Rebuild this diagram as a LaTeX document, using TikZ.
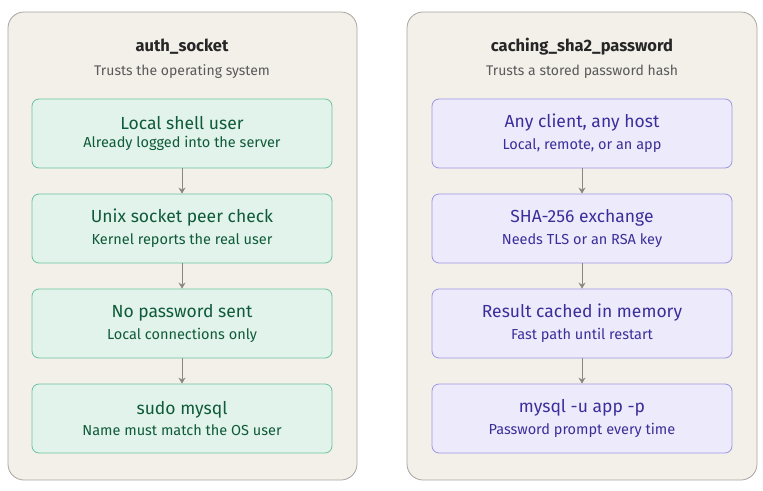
\documentclass[tikz,border=0pt]{standalone}
\usepackage{fontspec}
\setmainfont{Fira Sans}
\usetikzlibrary{arrows.meta}
\definecolor{panelfill}{HTML}{F3F0EA}
\definecolor{panelline}{HTML}{A8A59F}
\definecolor{gfill}{HTML}{E1F3EA}
\definecolor{gline}{HTML}{6CC39F}
\definecolor{gtext}{HTML}{0F5A3A}
\definecolor{pfill}{HTML}{EDEBFB}
\definecolor{pline}{HTML}{9D96E2}
\definecolor{ptext}{HTML}{3B2E9A}
\definecolor{arr}{HTML}{8A8884}
\tikzset{
 panel/.style={draw=panelline,fill=panelfill,rounded corners=16pt,line width=0.8pt},
 gbox/.style={draw=gline,fill=gfill,rounded corners=7pt,minimum width=300pt,minimum height=69pt,line width=0.8pt,text=gtext,align=center,inner sep=0pt},
 pbox/.style={draw=pline,fill=pfill,rounded corners=7pt,minimum width=300pt,minimum height=69pt,line width=0.8pt,text=ptext,align=center,inner sep=0pt},
 ttl/.style={font=\fontsize{16.5}{19}\selectfont\bfseries,text=black!85},
 sub/.style={font=\fontsize{14}{16}\selectfont,text=black!65},
 conn/.style={draw=arr,line width=1pt,-{Stealth[length=6pt,width=7pt]}}
}
\newcommand{\bx}[2]{{\fontsize{17.5}{20}\selectfont #1}\\[6pt]{\fontsize{14.5}{16}\selectfont #2}}
\begin{document}
\begin{tikzpicture}[x=1pt,y=-1pt]
\useasboundingbox (0,0) rectangle (763,490);
\draw[panel] (8,12) rectangle (357,480);
\draw[panel] (407,12) rectangle (757,480);
\node[ttl] (lt) at (182,47) {auth\_socket};
\node[sub] (ls) at (182,72) {Trusts the operating system};
\node[ttl] (rt) at (582,47) {caching\_sha2\_password};
\node[sub] (rs) at (582,72) {Trusts a stored password hash};
\node[gbox] (g1) at (182,133.5) {\bx{Local shell user}{Already logged into the server}};
\node[gbox] (g2) at (182,228.5) {\bx{Unix socket peer check}{Kernel reports the real user}};
\node[gbox] (g3) at (182,323.5) {\bx{No password sent}{Local connections only}};
\node[gbox] (g4) at (182,418.5) {\bx{sudo mysql}{Name must match the OS user}};
\node[pbox] (p1) at (582,133.5) {\bx{Any client, any host}{Local, remote, or an app}};
\node[pbox] (p2) at (582,228.5) {\bx{SHA-256 exchange}{Needs TLS or an RSA key}};
\node[pbox] (p3) at (582,323.5) {\bx{Result cached in memory}{Fast path until restart}};
\node[pbox] (p4) at (582,418.5) {\bx{mysql -u app -p}{Password prompt every time}};
\draw[conn] (g1) -- (g2);
\draw[conn] (g2) -- (g3);
\draw[conn] (g3) -- (g4);
\draw[conn] (p1) -- (p2);
\draw[conn] (p2) -- (p3);
\draw[conn] (p3) -- (p4);
\end{tikzpicture}
\end{document}
